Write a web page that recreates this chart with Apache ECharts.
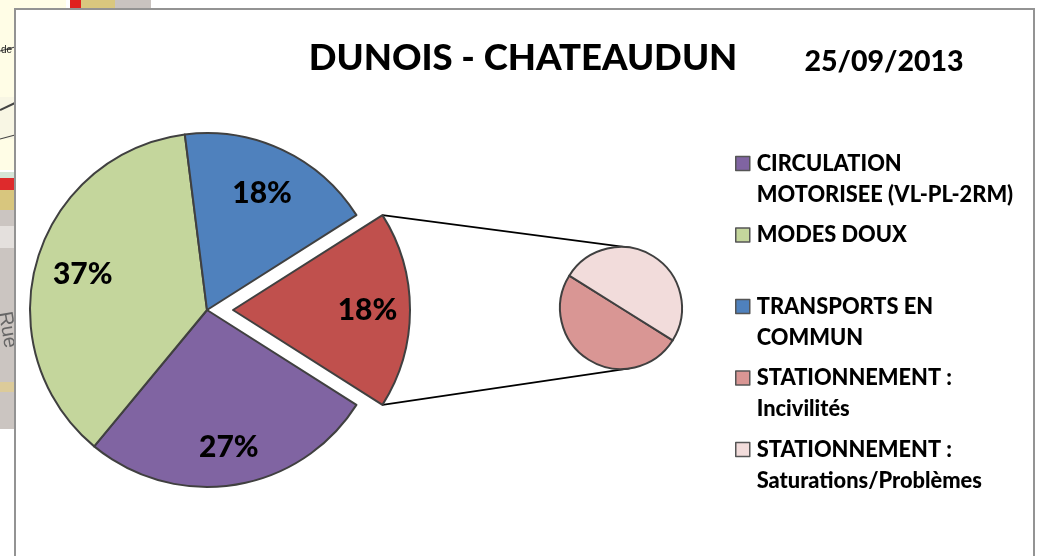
<!DOCTYPE html>
<html><head><meta charset="utf-8">
<style>html,body{margin:0;padding:0;background:#fff}#c{width:1038px;height:556px}</style>
<script src="https://cdn.jsdelivr.net/npm/echarts@6/dist/echarts.min.js"></script>
</head><body><div id="c"></div>
<script>
const titleText = 'DUNOIS - CHATEAUDUN';
const dateText = '25/09/2013';
const mainNames = ['CIRCULATION MOTORISEE (VL-PL-2RM)', 'MODES DOUX', 'TRANSPORTS EN COMMUN', 'STATIONNEMENT'];
const mainValues = [27, 37, 18, 18];
const mainColors = ['#8064A2', '#C4D69C', '#4F81BD', '#C0504D'];
const detailNames = ['STATIONNEMENT : Incivilités', 'STATIONNEMENT : Saturations/Problèmes'];
const detailValues = [9, 9];
const detailColors = ['#D99694', '#F2DCDB'];
const legendNames = [mainNames[0], mainNames[1], mainNames[2], detailNames[0], detailNames[1]];
const legendLines = {
  [mainNames[0]]: ['CIRCULATION', 'MOTORISEE (VL-PL-2RM)'],
  [mainNames[1]]: ['MODES DOUX', ' '],
  [mainNames[2]]: ['TRANSPORTS EN', 'COMMUN'],
  [detailNames[0]]: ['STATIONNEMENT :', 'Incivilités'],
  [detailNames[1]]: ['STATIONNEMENT :', 'Saturations/Problèmes']
};

// layout
const FONT = 'Lato, Carlito, sans-serif';
const C = [207, 310], R = 177, OFFSET = 26, C2 = [621, 308], R2 = 61;
const LABEL_R = [140, 130, 130, 135];
const total = mainValues.reduce((a, b) => a + b, 0);
const share = v => v / total * 360;
const explodedMid = 90;                        // exploded slice faces the detail pie
const explodedIndex = mainValues.length - 1;
const before = mainValues.slice(0, explodedIndex).reduce((a, b) => a + share(b), 0);
const startCW = explodedMid - share(mainValues[explodedIndex]) / 2 - before; // clockwise from 12 o'clock
const rad = d => d * Math.PI / 180;
const mids = []; { let a = startCW; mainValues.forEach(v => { mids.push(a + share(v) / 2); a += share(v); }); }
const half = share(mainValues[explodedIndex]) / 2;
const corner = sgn => [C[0] + OFFSET + R * Math.sin(rad(explodedMid + sgn * half)), C[1] - R * Math.cos(rad(explodedMid + sgn * half))];
const tangent = (sx, sy) => [C2[0] + sx * R2 * Math.sin(rad(8)), C2[1] + sy * R2 * Math.cos(rad(8))];
const pTop = corner(-1), pBot = corner(1), tTop = tangent(1, -1), tBot = tangent(1, 1);

const border = { borderColor: '#404040', borderWidth: 2 };
const line = (a, b, w = 1.8, c = '#000') => ({ type: 'line', shape: { x1: a[0], y1: a[1], x2: b[0], y2: b[1] }, style: { stroke: c, lineWidth: w }, silent: true });
const box = (x, y, w, h, fill) => ({ type: 'rect', shape: { x, y, width: w, height: h }, style: { fill }, silent: true });

const option = {
  animation: false,
  backgroundColor: '#fff',
  title: [
    { text: titleText, left: 518, top: 32, textAlign: 'center', textStyle: { fontFamily: FONT, fontWeight: 900, fontSize: 36.5, color: '#000', lineHeight: 42 } },
    { text: dateText, left: 879, top: 40, textAlign: 'center', textStyle: { fontFamily: FONT, fontWeight: 900, fontSize: 28.5, color: '#000', lineHeight: 34 } }
  ],
  legend: {
    orient: 'vertical', left: 730, top: 112, itemWidth: 14, itemHeight: 14, itemGap: -21.5, selectedMode: false,
    data: legendNames, icon: 'rect',
    itemStyle: { borderColor: '#555', borderWidth: 1.5 },
    formatter: n => '\n' + legendLines[n].join('\n'),
    textStyle: { fontFamily: FONT, fontWeight: 900, fontSize: 21.8, color: '#000', lineHeight: 31, padding: [0, 0, 0, 2] }
  },
  graphic: { elements: [
    // backdrop photo peeking out behind the chart frame
    box(0, 0, 66, 9, '#FFFDE6'), box(0, 0, 15, 170, '#FFFDE6'),
    box(66, 0, 4, 9, '#fff'), box(70, 0, 11, 9, '#E0201E'), box(81, 0, 34, 9, '#D9C77E'), box(115, 0, 36, 9, '#C9C3C0'),
    box(0, 97, 15, 42, '#F8F6E4'),
    line([0, 51], [15, 47], 1.2, '#444'), line([0, 110], [15, 103], 2, '#444'), line([0, 139], [15, 135], 1.2, '#444'),
    box(0, 172, 15, 6, '#D5E5D8'), box(0, 178, 15, 12, '#DE2A2C'), box(0, 190, 15, 20, '#D8C67E'),
    box(0, 210, 15, 219, '#CBC5C1'), box(0, 226, 15, 22, '#E4E0DD'), box(0, 382, 15, 10, '#DCCB9A'),
    { type: 'text', rotation: -1.4, x: 14, y: 310, style: { text: 'Rue', fill: '#666', fontSize: 20, fontFamily: 'Liberation Sans' }, silent: true },
    { type: 'text', x: 1, y: 45, style: { text: 'de', fill: '#222', fontSize: 10, fontFamily: 'Liberation Sans' }, silent: true },
    // chart frame
    { type: 'rect', shape: { x: 15, y: 9, width: 1019, height: 600 }, style: { fill: '#fff', stroke: '#939393', lineWidth: 2 }, silent: true },
    // bar-of-pie connectors
    line(pTop, tTop), line(pBot, tBot)
  ] },
  series: [
    {
      type: 'pie', center: C, radius: [0, R], startAngle: 90 - startCW, clockwise: true,
      selectedMode: 'single', selectedOffset: OFFSET, avoidLabelOverlap: false, silent: true,
      data: mainNames.map((name, i) => ({ name, value: mainValues[i], selected: i === explodedIndex, itemStyle: { color: mainColors[i], ...border } })),
      label: { show: true, position: 'inside', formatter: p => p.value + '%', fontFamily: FONT, fontWeight: 900, fontSize: 30, color: '#000' },
      labelLine: { show: false },
      labelLayout: p => {
        const d = LABEL_R[p.dataIndex] - R * 0.52, a = rad(mids[p.dataIndex]);
        return { dx: d * Math.sin(a), dy: -d * Math.cos(a) };
      },
      emphasis: { disabled: true }
    },
    {
      type: 'pie', center: C2, radius: [0, R2], startAngle: -32, clockwise: true, silent: true,
      data: detailNames.map((name, i) => ({ name, value: detailValues[i], itemStyle: { color: detailColors[i], ...border } })),
      label: { show: false }, labelLine: { show: false }, emphasis: { disabled: true }
    }
  ]
};
echarts.init(document.getElementById('c'), null, { renderer: 'canvas' }).setOption(option);
</script></body></html>
